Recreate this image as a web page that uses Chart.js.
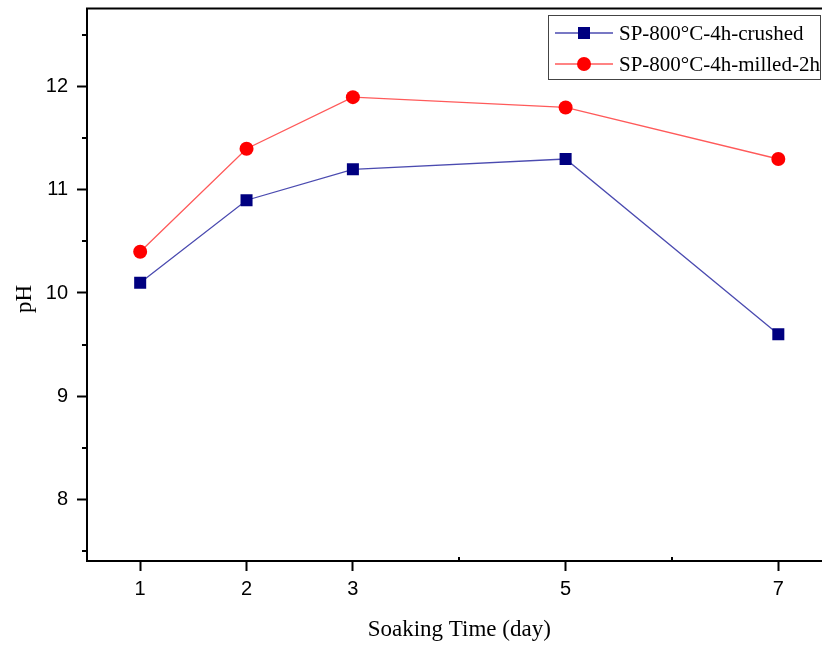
<!DOCTYPE html>
<html>
<head>
<meta charset="utf-8">
<script src="https://cdn.jsdelivr.net/npm/chart.js@4"></script>
<style>
    body { margin: 0; background: #fff; overflow: hidden; }
</style>
</head>
<body>
<canvas id="phChart" width="840" height="650"></canvas>
<script>
// Data
const days = [1, 2, 3, 5, 7];
const crushedPH = [10.1, 10.9, 11.2, 11.3, 9.6];
const milledPH = [10.4, 11.4, 11.9, 11.8, 11.3];
const seriesLabels = ['SP-800°C-4h-crushed', 'SP-800°C-4h-milled-2h'];
const xTicks = [1, 2, 3, 5, 7];
const xMinorTicks = [4, 6];
const yTicks = [8, 9, 10, 11, 12];
const yMinorTicks = [7.5, 8.5, 9.5, 10.5, 11.5, 12.5];

const toPoints = (ys) => days.map((d, i) => ({ x: d, y: ys[i] }));

// Top frame line, minor ticks, y title and boxed legend
const extras = {
    id: 'extras',
    afterDraw(chart) {
        const ctx = chart.ctx;
        const area = chart.chartArea;
        const xs = chart.scales.x;
        const ys = chart.scales.y;
        ctx.save();

        ctx.strokeStyle = '#000';
        ctx.lineWidth = 2;
        ctx.beginPath();
        ctx.moveTo(area.left - 1, area.top);
        ctx.lineTo(area.right, area.top);
        yMinorTicks.forEach(v => {
            const y = Math.round(ys.getPixelForValue(v));
            ctx.moveTo(area.left, y);
            ctx.lineTo(area.left - 5, y);
        });
        xMinorTicks.forEach(v => {
            const x = Math.round(xs.getPixelForValue(v));
            ctx.moveTo(x, area.bottom);
            ctx.lineTo(x, area.bottom - 4);
        });
        ctx.stroke();

        // y axis title
        ctx.save();
        ctx.fillStyle = '#000';
        ctx.font = '23px "Liberation Serif"';
        ctx.textAlign = 'center';
        ctx.textBaseline = 'middle';
        ctx.translate(25, 299);
        ctx.rotate(-Math.PI / 2);
        ctx.fillText('pH', 0, 0);
        ctx.restore();

        // legend
        ctx.strokeStyle = '#444';
        ctx.lineWidth = 1;
        ctx.strokeRect(548.5, 15.5, 272, 64);
        chart.data.datasets.forEach((ds, i) => {
            const y = 33 + i * 31;
            ctx.strokeStyle = ds.borderColor;
            ctx.lineWidth = ds.borderWidth;
            ctx.beginPath();
            ctx.moveTo(555, y);
            ctx.lineTo(613, y);
            ctx.stroke();
            ctx.fillStyle = ds.pointBackgroundColor;
            if (ds.pointStyle === 'rect') {
                ctx.fillRect(578, y - 6, 12, 12);
            } else {
                ctx.beginPath();
                ctx.arc(584, y, 7, 0, Math.PI * 2);
                ctx.fill();
            }
            ctx.fillStyle = '#000';
            ctx.font = '21px "Liberation Serif"';
            ctx.textAlign = 'left';
            ctx.textBaseline = 'middle';
            ctx.fillText(ds.label, 619, y + 1);
        });
        ctx.restore();
    }
};

const axisCommon = {
    border: { color: '#000', width: 2 },
    grid: { drawOnChartArea: false, drawTicks: true, tickLength: 10, tickColor: '#000', tickWidth: 2 },
};

const ctx = document.getElementById('phChart').getContext('2d');
new Chart(ctx, {
    type: 'line',
    data: {
        datasets: [
            {
                label: seriesLabels[0],
                data: toPoints(crushedPH),
                borderColor: '#4b4bb0',
                borderWidth: 1.3,
                pointStyle: 'rect',
                pointRadius: 8.5,
                pointBackgroundColor: '#000080',
                pointBorderColor: '#000080',
                pointBorderWidth: 0
            },
            {
                label: seriesLabels[1],
                data: toPoints(milledPH),
                borderColor: '#ff5a5a',
                borderWidth: 1.3,
                pointStyle: 'circle',
                pointRadius: 7,
                pointBackgroundColor: '#ff0000',
                pointBorderColor: '#ff0000',
                pointBorderWidth: 0
            }
        ]
    },
    options: {
        responsive: false,
        animation: false,
        layout: { padding: { top: 6, right: 8, left: 0, bottom: 0 } },
        plugins: {
            legend: { display: false },
            tooltip: { enabled: false }
        },
        scales: {
            x: {
                type: 'linear',
                min: 0.5,
                max: 7.5,
                ...axisCommon,
                afterBuildTicks: (scale) => { scale.ticks = xTicks.map(v => ({ value: v })); },
                afterFit: (scale) => {
                    scale.height = 89;
                    scale.paddingLeft = 0;
                    scale.paddingRight = 0;
                },
                ticks: {
                    color: '#000',
                    padding: 6,
                    font: { family: '"Liberation Sans"', size: 20 }
                },
                title: {
                    display: true,
                    text: 'Soaking Time (day)',
                    color: '#000',
                    font: { family: '"Liberation Serif"', size: 23 },
                    padding: { top: 0, bottom: 6 }
                }
            },
            y: {
                min: 7.4,
                max: 12.76,
                ...axisCommon,
                afterBuildTicks: (scale) => { scale.ticks = yTicks.map(v => ({ value: v })); },
                afterFit: (scale) => {
                    scale.width = 87;
                    scale.paddingTop = 0;
                    scale.paddingBottom = 0;
                },
                ticks: {
                    color: '#000',
                    padding: 9,
                    font: { family: '"Liberation Sans"', size: 20 }
                }
            }
        }
    },
    plugins: [extras]
});
</script>
</body>
</html>
